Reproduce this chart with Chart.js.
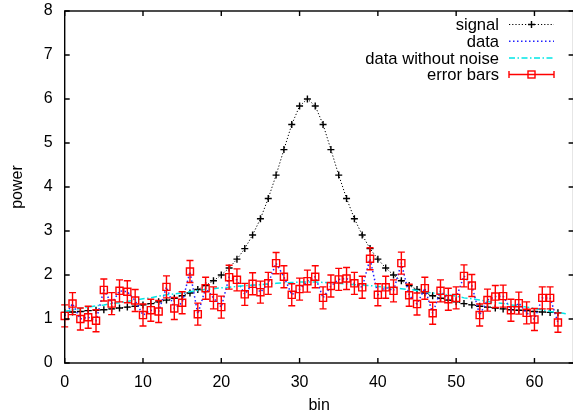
<!DOCTYPE html>
<html>
<head>
<meta charset="utf-8">
<script src="https://cdn.jsdelivr.net/npm/chart.js@4.4.1/dist/chart.umd.min.js"></script>
<style>
  html, body { margin: 0; padding: 0; background: #fff; overflow: hidden; }
  #wrap { width: 580px; height: 418px; }
</style>
</head>
<body>
<div id="wrap"><canvas id="grafico" width="580" height="418"></canvas></div>
<script>
// bins (eixo x)
const bins = [0,1,2,3,4,5,6,7,8,9,10,11,12,13,14,15,16,17,18,19,20,21,22,23,24,25,26,27,28,29,30,31,
  32,33,34,35,36,37,38,39,40,41,42,43,44,45,46,47,48,49,50,51,52,53,54,55,56,57,58,59,60,61,62,63,64];

// sinal (pico em 31)
const signalValues = [1.15,1.16,1.17,1.19,1.20,1.21,1.23,1.25,1.27,1.29,
  1.32,1.35,1.39,1.43,1.47,1.53,1.59,1.67,1.76,1.87,
  2.00,2.16,2.36,2.60,2.91,3.28,3.74,4.27,4.85,5.42,5.84,
  6.00,
  5.84,5.42,4.85,4.27,3.74,3.28,2.91,2.60,2.36,2.16,
  2.00,1.87,1.76,1.67,1.59,1.53,1.47,1.43,1.39,1.35,
  1.32,1.29,1.27,1.25,1.23,1.21,1.20,1.19,1.17,1.16,
  1.15,1.14];

// dados medidos (com ruído)
const dataValues = [1.07,1.35,1.00,1.04,0.96,1.66,1.35,1.64,1.62,1.42,
  1.09,1.20,1.17,1.73,1.24,1.37,2.08,1.11,1.70,1.48,
  1.27,1.95,1.89,1.56,1.80,1.61,1.81,2.27,1.96,1.55,
  1.68,1.86,1.96,1.48,1.75,1.90,1.92,1.81,1.72,2.37,
  1.55,1.72,1.64,2.27,1.54,1.34,1.70,1.13,1.64,1.45,
  1.48,1.98,1.76,1.09,1.43,1.51,1.52,1.20,1.36,1.14,
  0.99,1.48,1.48,0.92];

// dados sem ruído
const cleanValues = [1.17,1.21,1.24,1.27,1.30,1.32,1.35,1.37,1.40,1.43,
  1.46,1.48,1.52,1.55,1.57,1.59,1.62,1.65,1.67,1.69,
  1.71,1.72,1.74,1.76,1.77,1.78,1.80,1.81,1.82,1.83,1.84,
  1.84,
  1.84,1.83,1.82,1.81,1.80,1.78,1.77,1.76,1.74,1.72,
  1.71,1.69,1.67,1.65,1.62,1.59,1.57,1.55,1.52,1.48,
  1.46,1.43,1.40,1.37,1.35,1.32,1.30,1.27,1.24,1.21,
  1.17,1.15,1.12];

// barras de erro (+/-)
const errValues = [0.25,0.25,0.25,0.25,0.25,0.25,0.25,0.25,0.25,0.25,
  0.25,0.25,0.25,0.25,0.25,0.25,0.25,0.25,0.25,0.25,
  0.25,0.27,0.25,0.25,0.25,0.25,0.25,0.24,0.25,0.25,
  0.25,0.25,0.25,0.25,0.25,0.25,0.25,0.25,0.25,0.25,
  0.25,0.25,0.25,0.25,0.25,0.25,0.25,0.25,0.25,0.25,
  0.25,0.25,0.25,0.25,0.25,0.25,0.25,0.25,0.25,0.25,
  0.25,0.25,0.25,0.22];

const xTicks = [0, 10, 20, 30, 40, 50, 60];
const yTicks = [0, 1, 2, 3, 4, 5, 6, 7, 8];

const FONT = '"Liberation Sans", Arial, Helvetica, sans-serif';

function pts(values) {
  return values.map((v, i) => ({ x: bins[i], y: v }));
}

// Desenha as barras de erro usando as escalas do gráfico
const errorBarsPlugin = {
  id: 'errorBars',
  beforeDatasetDraw(chart, args) {
    if (args.index !== 3) return;
    const ctx = chart.ctx;
    const sx = chart.scales.x, sy = chart.scales.y;
    ctx.save();
    ctx.strokeStyle = '#ff0000';
    ctx.lineWidth = 1.4;
    dataValues.forEach((v, i) => {
      const px = sx.getPixelForValue(bins[i]);
      const top = sy.getPixelForValue(v + errValues[i]);
      const bot = sy.getPixelForValue(v - errValues[i]);
      ctx.beginPath();
      ctx.moveTo(px, top); ctx.lineTo(px, bot);
      ctx.moveTo(px - 3.5, top); ctx.lineTo(px + 3.5, top);
      ctx.moveTo(px - 3.5, bot); ctx.lineTo(px + 3.5, bot);
      ctx.stroke();
    });
    ctx.restore();
  }
};

// Moldura com ticks para dentro (estilo gnuplot)
const framePlugin = {
  id: 'frame',
  afterDatasetsDraw(chart) {
    const ctx = chart.ctx;
    const a = chart.chartArea;
    const sx = chart.scales.x, sy = chart.scales.y;
    const len = 5;
    ctx.save();
    ctx.strokeStyle = '#000';
    ctx.lineWidth = 1.4;
    ctx.beginPath();
    xTicks.forEach(t => {
      const px = sx.getPixelForValue(t);
      ctx.moveTo(px, a.bottom); ctx.lineTo(px, a.bottom - len);
      ctx.moveTo(px, a.top); ctx.lineTo(px, a.top + len);
    });
    yTicks.forEach(t => {
      const py = sy.getPixelForValue(t);
      ctx.moveTo(a.left, py); ctx.lineTo(a.left + len, py);
      ctx.moveTo(a.right, py); ctx.lineTo(a.right - len, py);
    });
    ctx.stroke();
    ctx.strokeRect(a.left, a.top, a.right - a.left, a.bottom - a.top);
    ctx.restore();
  }
};

// Legenda no canto superior direito: texto alinhado à direita, amostra depois
const legendPlugin = {
  id: 'gpLegend',
  afterDraw(chart) {
    const ctx = chart.ctx;
    const textRight = 499;
    const x0 = 509, x1 = 554, xm = (x0 + x1) / 2;
    const rows = [24.5, 41.2, 58, 74.5];
    ctx.save();
    ctx.font = '16.6px ' + FONT;
    ctx.textAlign = 'right';
    ctx.textBaseline = 'middle';
    ctx.fillStyle = '#000';
    chart.data.datasets.forEach((ds, i) => {
      const y = rows[i];
      ctx.fillText(ds.label, textRight, y + 1);
      ctx.save();
      ctx.strokeStyle = ds.borderColor;
      ctx.lineWidth = ds.borderWidth;
      ctx.setLineDash(ds.showLine === false ? [] : (ds.borderDash || []));
      ctx.beginPath();
      ctx.moveTo(x0, y); ctx.lineTo(x1, y);
      ctx.stroke();
      ctx.setLineDash([]);
      if (ds.pointStyle === 'cross') {
        ctx.lineWidth = ds.pointBorderWidth;
        ctx.beginPath();
        ctx.moveTo(xm - 3.5, y); ctx.lineTo(xm + 3.5, y);
        ctx.moveTo(xm, y - 3.5); ctx.lineTo(xm, y + 3.5);
        ctx.stroke();
      }
      if (ds.pointStyle === 'rect') {
        ctx.lineWidth = 1.4;
        ctx.beginPath();
        ctx.moveTo(x0, y - 3.5); ctx.lineTo(x0, y + 3.5);
        ctx.moveTo(x1, y - 3.5); ctx.lineTo(x1, y + 3.5);
        ctx.stroke();
        ctx.strokeRect(xm - 3.5, y - 3.5, 7, 7);
      }
      ctx.restore();
    });
    ctx.restore();
  }
};

Chart.defaults.font.family = FONT;
Chart.defaults.font.size = 16;
Chart.defaults.color = '#000';

new Chart(document.getElementById('grafico'), {
  type: 'scatter',
  data: {
    datasets: [
      {
        label: 'signal',
        data: pts(signalValues),
        showLine: true,
        borderColor: '#000000',
        borderWidth: 1,
        borderDash: [1.2, 2],
        pointStyle: 'cross',
        pointRadius: 3.5,
        pointBorderWidth: 1.4,
        pointBorderColor: '#000000',
        clip: false,
        order: 3
      },
      {
        label: 'data',
        data: pts(dataValues),
        showLine: true,
        borderColor: '#2020ff',
        borderWidth: 1.5,
        borderDash: [1.5, 2.5],
        pointRadius: 0,
        order: 2
      },
      {
        label: 'data without noise',
        data: pts(cleanValues),
        showLine: true,
        borderColor: '#00e6e6',
        borderWidth: 1.5,
        borderDash: [6, 2.5, 1.5, 2.5],
        pointRadius: 0,
        order: 1
      },
      {
        label: 'error bars',
        data: pts(dataValues),
        showLine: false,
        borderColor: '#ff0000',
        borderWidth: 1.4,
        pointStyle: 'rect',
        pointRadius: 5,
        pointBorderWidth: 1.4,
        pointBorderColor: '#ff0000',
        pointBackgroundColor: 'rgba(0,0,0,0)',
        clip: false,
        order: 0
      }
    ]
  },
  options: {
    responsive: false,
    animation: false,
    events: [],
    layout: { padding: { top: 11, right: 5.3, left: 0, bottom: 0 } },
    plugins: { legend: { display: false }, tooltip: { enabled: false } },
    scales: {
      x: {
        type: 'linear',
        min: 0,
        max: 65,
        grid: { display: false, drawTicks: false },
        border: { display: false },
        ticks: { padding: 10, maxRotation: 0, autoSkip: false },
        title: { display: true, text: 'bin', padding: { top: 0, bottom: 3 } },
        afterBuildTicks: s => { s.ticks = xTicks.map(v => ({ value: v })); },
        afterFit: s => { s.height = 55; s.paddingLeft = 0; s.paddingRight = 0; }
      },
      y: {
        min: 0,
        max: 8,
        grid: { display: false, drawTicks: false },
        border: { display: false },
        ticks: { padding: 12, autoSkip: false },
        title: { display: true, text: 'power', padding: { top: 8, bottom: 0 } },
        afterBuildTicks: s => { s.ticks = yTicks.map(v => ({ value: v })); },
        afterFit: s => { s.width = 64.7; s.paddingTop = 0; s.paddingBottom = 0; }
      }
    }
  },
  plugins: [errorBarsPlugin, framePlugin, legendPlugin]
});
</script>
</body>
</html>
